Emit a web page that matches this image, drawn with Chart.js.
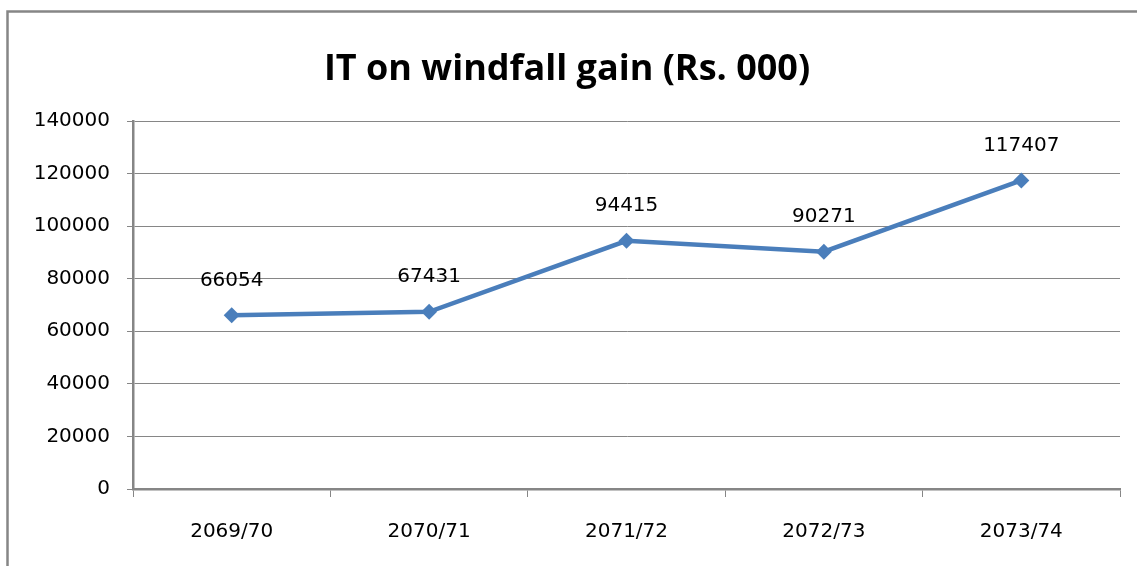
<!DOCTYPE html>
<html>
<head>
<meta charset="utf-8">
<script src="https://cdn.jsdelivr.net/npm/chart.js@4"></script>
<style>
html,body{margin:0;padding:0;background:#fff;overflow:hidden;}
#wrap{width:1137px;height:566px;position:relative;}
</style>
</head>
<body>
<div id="wrap"><canvas id="c" width="1137" height="566"></canvas></div>
<script>
const categories = ['2069/70', '2070/71', '2071/72', '2072/73', '2073/74'];
const values = [66054, 67431, 94415, 90271, 117407];
const chartTitle = 'IT on windfall gain (Rs. 000)';
const yMin = 0, yMax = 140000, yStep = 20000;

const AXIS = '#868686';
const LINE = '#4A7EBB';
const TICK_FONT = { family: 'DejaVu Sans', size: 20 };

const framePlugin = {
  id: 'frame',
  beforeDraw(chart) {
    const ctx = chart.ctx;
    ctx.save();
    ctx.fillStyle = '#fff';
    ctx.fillRect(0, 0, chart.width, chart.height);
    ctx.strokeStyle = AXIS;
    ctx.lineWidth = 2.5;
    ctx.beginPath();
    ctx.moveTo(7.5, chart.height);
    ctx.lineTo(7.5, 11.5);
    ctx.lineTo(chart.width, 11.5);
    ctx.stroke();
    // title
    ctx.fillStyle = '#000';
    ctx.font = 'bold 36px "Open Sans"';
    ctx.textAlign = 'center';
    ctx.textBaseline = 'alphabetic';
    ctx.fillText(chartTitle, 567, 80);
    ctx.restore();
  }
};

const labelPlugin = {
  id: 'valueLabels',
  afterDatasetsDraw(chart) {
    const ctx = chart.ctx;
    const meta = chart.getDatasetMeta(0);
    ctx.save();
    ctx.font = '20px "DejaVu Sans"';
    ctx.fillStyle = '#000';
    ctx.textAlign = 'center';
    ctx.textBaseline = 'middle';
    meta.data.forEach((pt, i) => {
      ctx.fillText(String(values[i]), pt.x, pt.y - 35);
    });
    ctx.restore();
  }
};

new Chart(document.getElementById('c'), {
  type: 'line',
  data: {
    labels: categories,
    datasets: [{
      data: values,
      borderColor: LINE,
      backgroundColor: LINE,
      borderWidth: 4.5,
      pointStyle: 'rectRot',
      pointRadius: 8,
      pointBorderWidth: 0,
      pointBackgroundColor: LINE,
      tension: 0
    }]
  },
  options: {
    responsive: false,
    animation: false,
    devicePixelRatio: 1,
    layout: { padding: { left: 0, right: 17, top: 121, bottom: 0 } },
    plugins: {
      legend: { display: false },
      tooltip: { enabled: false },
      title: { display: false }
    },
    scales: {
      x: {
        offset: true,
        grid: {
          offset: true,
          drawOnChartArea: false,
          drawTicks: true,
          tickLength: 8,
          color: AXIS,
          lineWidth: 1
        },
        border: { display: true, color: AXIS, width: 2.5 },
        ticks: { color: '#000', font: TICK_FONT, padding: 23, maxRotation: 0 },
        afterFit(scale) { scale.height = 77; }
      },
      y: {
        min: yMin,
        max: yMax,
        grid: {
          color: AXIS,
          lineWidth: 1,
          drawTicks: true,
          tickLength: 6
        },
        border: { display: true, color: AXIS, width: 2.5 },
        ticks: {
          stepSize: yStep, color: '#000', font: TICK_FONT, padding: 17,
          callback: (v) => String(v)
        },
        afterFit(scale) { scale.width = 133; }
      }
    }
  },
  plugins: [framePlugin, labelPlugin]
});
</script>
</body>
</html>
